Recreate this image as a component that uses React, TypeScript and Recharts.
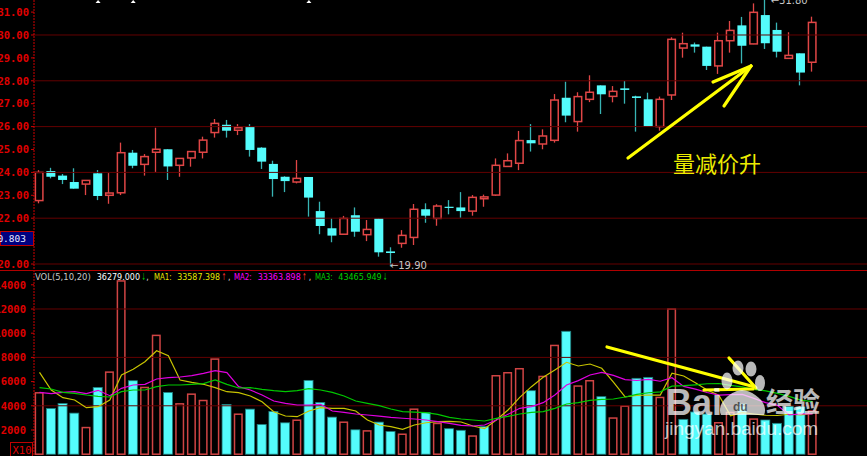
import React from 'react';
import { ComposedChart, Bar, Line, XAxis, YAxis, ReferenceLine, ReferenceDot } from 'recharts';

// ---------- data ----------
const opens = [22.77, 24.06, 23.86, 23.58, 23.49, 23.96, 23.0, 23.11, 24.86, 24.35, 24.88, 25.01, 24.31, 24.63, 24.88, 25.74, 26.08, 25.84, 25.98, 25.08, 24.37, 23.81, 23.58, 23.8, 22.31, 21.56, 21.3, 22.13, 21.28, 21.99, 20.55, 20.9, 21.16, 22.39, 21.99, 22.5, 22.47, 22.31, 22.85, 23.01, 24.26, 24.4, 25.41, 25.24, 25.4, 27.26, 26.22, 27.19, 27.8, 27.32, 27.67, 27.32, 27.19, 26.0, 27.38, 29.43, 29.59, 29.49, 28.65, 29.75, 30.42, 29.61, 30.87, 30.22, 28.98, 29.2, 28.81];
const closes = [24.0, 23.81, 23.67, 23.29, 23.65, 22.97, 23.1, 24.86, 24.29, 24.69, 25.01, 24.26, 24.61, 24.91, 25.41, 26.14, 25.82, 25.95, 24.98, 24.47, 23.71, 23.62, 23.74, 22.9, 21.66, 21.24, 21.99, 21.41, 21.51, 20.51, 20.48, 21.25, 22.39, 22.11, 22.53, 22.45, 22.31, 22.91, 22.93, 24.31, 24.51, 25.39, 25.27, 25.59, 27.16, 26.48, 27.31, 27.5, 27.41, 27.54, 27.6, 27.25, 26.0, 27.19, 29.81, 29.62, 29.49, 28.65, 29.75, 30.2, 29.53, 30.99, 29.64, 29.27, 29.11, 28.36, 30.55];
const highs = [24.1, 24.2, 23.93, 24.18, 23.65, 24.1, 23.97, 25.3, 24.98, 24.8, 25.95, 25.01, 24.63, 24.93, 25.56, 26.33, 26.29, 26.11, 26.11, 25.1, 24.51, 23.83, 24.54, 23.8, 22.72, 21.99, 22.1, 22.47, 21.92, 21.99, 20.73, 21.48, 22.62, 22.65, 22.61, 22.79, 23.14, 23.01, 23.03, 24.61, 24.83, 25.81, 26.11, 25.88, 27.42, 27.96, 27.5, 28.24, 27.8, 27.77, 27.99, 27.35, 27.48, 27.31, 29.9, 30.1, 29.67, 29.49, 30.1, 30.61, 30.79, 31.38, 31.8, 30.54, 30.12, 29.2, 30.8];
const lows = [22.65, 23.74, 23.49, 23.29, 23.01, 22.79, 22.63, 23.01, 24.18, 23.86, 24.02, 23.67, 23.81, 24.25, 24.61, 25.52, 25.52, 25.63, 24.69, 24.15, 22.94, 23.14, 23.52, 22.07, 21.3, 20.95, 21.27, 21.19, 21.0, 20.32, 19.9, 20.71, 20.83, 21.8, 21.67, 22.17, 22.02, 22.11, 22.5, 22.97, 24.25, 24.1, 24.91, 25.01, 25.3, 26.19, 25.78, 27.07, 26.55, 27.06, 27.0, 25.78, 26.0, 25.82, 27.16, 29.01, 29.23, 28.47, 28.3, 29.23, 28.76, 29.6, 29.39, 29.02, 28.98, 27.8, 28.4];

const volumes = [5134, 3781, 4195, 3395, 2263, 5520, 6845, 14380, 6072, 5575, 9881, 5106, 4223, 5023, 4499, 7921, 4112, 3367, 3726, 2456, 3533, 2594, 2870, 6100, 4278, 3064, 2705, 2015, 1987, 2650, 1877, 1711, 3781, 3431, 2603, 2107, 1975, 1562, 2273, 6545, 6793, 7124, 5248, 6487, 9049, 10156, 5693, 6132, 4753, 3049, 4030, 6270, 6350, 4750, 12055, 2880, 3490, 3320, 2660, 3510, 4150, 2964, 2826, 2550, 3983, 3926, 3628];
const volUp = [1, 0, 0, 0, 1, 0, 1, 1, 0, 1, 1, 0, 1, 1, 1, 1, 0, 1, 0, 0, 0, 0, 1, 0, 0, 0, 1, 0, 1, 0, 0, 1, 1, 0, 1, 0, 0, 1, 0, 1, 1, 1, 0, 1, 1, 0, 1, 1, 0, 1, 1, 0, 0, 1, 1, 0, 0, 0, 1, 1, 0, 1, 0, 0, 0, 0, 1];
const ma1 = [6765, 5305, 4669, 4480, 3843, 3925, 4480, 6545, 7016, 7644, 8553, 8140, 6132, 5942, 5777, 5496, 5165, 5085, 4811, 4340, 3512, 3154, 3099, 3567, 3843, 3788, 3788, 3567, 2826, 2413, 2275, 2055, 2413, 2600, 2690, 2715, 2660, 2330, 2110, 2825, 3650, 4700, 5580, 6350, 6958, 7595, 7289, 7454, 7099, 5960, 4730, 4850, 4890, 4890, 6690, 6460, 5900, 5300, 4880, 3170, 3430, 3320, 3220, 3200, 3300, 3250, 3359];
const ma2 = [5113, 5002, 5113, 5168, 5002, 5278, 4836, 5444, 5719, 5774, 6215, 6325, 6380, 6490, 6683, 6903, 6738, 5580, 5305, 4892, 4396, 4206, 4066, 4066, 4121, 3567, 3457, 3322, 3240, 3154, 3047, 2969, 2909, 2826, 2687, 2551, 2385, 2330, 2413, 2826, 3295, 3790, 3928, 4259, 4893, 5719, 6077, 6545, 6765, 6517, 6170, 6090, 6190, 6030, 6320, 5600, 5380, 5100, 4890, 4930, 4940, 4610, 4260, 4040, 3240, 3340, 3336];
const ma3 = [5496, 5388, 5113, 5030, 4892, 4782, 4727, 5168, 5305, 5305, 5580, 5719, 5719, 5774, 5829, 6132, 5774, 5471, 5496, 5361, 5250, 5168, 5250, 5416, 5305, 5113, 4811, 4396, 4206, 4010, 3733, 3512, 3485, 3430, 3295, 3047, 2909, 2826, 2743, 2964, 3130, 3322, 3460, 3515, 3791, 4149, 4259, 4452, 4535, 4562, 4725, 4950, 5080, 5150, 5620, 5660, 5730, 5820, 5840, 5690, 5560, 5350, 5230, 5030, 4780, 4470, 4347];

const priceTicks = [20, 21, 22, 23, 24, 25, 26, 27, 28, 29, 30, 31];
const priceGrid = [20, 22, 24, 26, 28, 30];
const volTicks = [2000, 4000, 6000, 8000, 10000, 12000, 14000];
const volGrid = [4000, 8000, 12000];
const markerIdx = [5, 8, 23];
const lowMark = { i: 30, v: 19.9, label: '←19.90' };
const highMark = { i: 62, v: 31.8, label: '←31.80' };
const headerVals = ['36279.000', '33587.398', '33363.898', '43465.949'];
const cursorPrice = '20.803';

// ---------- layout / style ----------
const W = 867;
const PRICE_H = 270;
const VOL_H = 186;
const X_DOMAIN: [number, number] = [-0.47, 70.65];
const PRICE_DOMAIN: [number, number] = [19.738, 31.528];
const VOL_DOMAIN: [number, number] = [-149, 15222];
const AXIS_W = 34;

const RED = '#e04646';
const CYAN = '#54fcfc';
const CYAN_WICK = '#38b4b4';
const GRID = '#640000';
const AXIS_RED = '#d00000';
const LABEL_RED = '#e00000';

const candles = opens.map((o, i) => ({
  i,
  open: o,
  close: closes[i],
  high: highs[i],
  low: lows[i],
  range: [lows[i], highs[i]],
}));

const vols = volumes.map((v, i) => ({ i, vol: v, up: volUp[i] === 1, ma1: ma1[i], ma2: ma2[i], ma3: ma3[i] }));

function Candle(props: any) {
  const { x, y, width, height, payload } = props;
  if (x == null || y == null || !payload) return null;
  const top = Math.min(y, y + height);
  const h = Math.abs(height);
  const { open, close, high, low } = payload;
  const k = h / (high - low);
  const py = (v: number) => top + (high - v) * k;
  const bTop = py(Math.max(open, close));
  const bBot = py(Math.min(open, close));
  const bodyH = Math.max(bBot - bTop, 1.2);
  const cx = Math.round(x + width / 2) - 0.5;
  if (close > open) {
    return (
      <g>
        <line x1={cx} x2={cx} y1={top} y2={bTop} stroke={RED} strokeWidth={1.3} />
        <line x1={cx} x2={cx} y1={bTop + bodyH} y2={top + h} stroke={RED} strokeWidth={1.3} />
        <rect x={x + 0.75} y={bTop} width={width - 1.5} height={bodyH} fill="#000" stroke={RED} strokeWidth={1.5} />
      </g>
    );
  }
  return (
    <g>
      <line x1={cx} x2={cx} y1={top} y2={top + h} stroke={CYAN_WICK} strokeWidth={1.3} />
      <rect x={x} y={bTop} width={width} height={bodyH} fill={CYAN} />
    </g>
  );
}

function VolBar(props: any) {
  const { x, y, width, height, payload } = props;
  if (x == null || y == null || !payload) return null;
  const top = Math.min(y, y + height);
  const h = Math.abs(height);
  if (payload.up) {
    return <rect x={x + 0.75} y={top + 0.75} width={width - 1.5} height={Math.max(h - 0.75, 0)} fill="#000" stroke="#d04444" strokeWidth={1.5} />;
  }
  return <rect x={x} y={top} width={width} height={h} fill={CYAN} stroke="#1f7f7f" strokeWidth={0.8} />;
}

const tickStyle = { fill: LABEL_RED, fontSize: 10.5, fontFamily: 'DejaVu Sans Mono', fontWeight: 'bold' as const };

export default function App() {
  const headerSegs = [
    { t: 'VOL(5,10,20)', x: 35, w: 55.7, c: '#c8c8c8' },
    { t: headerVals[0], x: 96.7, w: 43.3, c: '#ffffff' },
    { t: '↓', x: 141.7, w: 4, c: '#00d000' },
    { t: ',', x: 146.5, w: 2, c: '#ffffff' },
    { t: 'MA1:', x: 154, w: 17.7, c: '#e8e800' },
    { t: headerVals[1], x: 177.3, w: 42.7, c: '#e8e800' },
    { t: '↑', x: 221.7, w: 4.6, c: '#ff3030' },
    { t: ',', x: 228.3, w: 2, c: '#ffffff' },
    { t: 'MA2:', x: 234, w: 17.7, c: '#ff00ff' },
    { t: headerVals[2], x: 257.7, w: 43, c: '#ff00ff' },
    { t: '↑', x: 302.3, w: 4.4, c: '#ff3030' },
    { t: ',', x: 309, w: 2, c: '#ffffff' },
    { t: 'MA3:', x: 315, w: 17.7, c: '#00d000' },
    { t: headerVals[3], x: 338.3, w: 43.4, c: '#00d000' },
    { t: '↓', x: 383.3, w: 4, c: '#00d000' },
  ];
  return (
    <div style={{ position: 'absolute', left: 0, top: 0, width: W, height: 456, background: '#000', overflow: 'hidden' }}>
      <div style={{ position: 'absolute', left: 0, top: 0 }}>
        <ComposedChart width={W} height={PRICE_H} data={candles} margin={{ top: 0, right: 0, bottom: 0, left: 0 }}>
          <XAxis type="number" dataKey="i" domain={X_DOMAIN} hide allowDataOverflow />
          <YAxis
            type="number"
            domain={PRICE_DOMAIN}
            allowDataOverflow
            ticks={priceTicks}
            interval={0}
            width={AXIS_W}
            tickSize={3}
            tickMargin={2}
            tick={tickStyle}
            tickFormatter={(v: number) => v.toFixed(2)}
            axisLine={{ stroke: AXIS_RED, strokeDasharray: '2 1' }}
            tickLine={{ stroke: AXIS_RED }}
          />
          {priceGrid.map((g) => (
            <ReferenceLine key={g} y={g} stroke={GRID} strokeWidth={1} />
          ))}
          <Bar dataKey="range" barSize={9} shape={<Candle />} isAnimationActive={false} />
          {markerIdx.map((m) => (
            <ReferenceDot
              key={m}
              x={m}
              y={PRICE_DOMAIN[1]}
              r={0}
              ifOverflow="visible"
              shape={(p: any) => (
                <path d={`M${p.cx - 2.5},${p.cy + 3} L${p.cx},${p.cy} L${p.cx + 2.5},${p.cy + 3} Z`} fill="#ffffff" />
              )}
            />
          ))}
          <ReferenceDot
            x={lowMark.i}
            y={lowMark.v}
            r={0}
            ifOverflow="visible"
            shape={(p: any) => (
              <text x={p.cx - 1} y={p.cy + 3} fill="#c8c8c8" fontSize={10} fontFamily="DejaVu Sans">
                {lowMark.label}
              </text>
            )}
          />
          <ReferenceDot
            x={highMark.i}
            y={highMark.v}
            r={0}
            ifOverflow="visible"
            shape={(p: any) => (
              <text x={p.cx + 5} y={p.cy + 10} fill="#c8c8c8" fontSize={10} fontFamily="DejaVu Sans">
                {highMark.label}
              </text>
            )}
          />
        </ComposedChart>
      </div>
      <div style={{ position: 'absolute', left: 0, top: PRICE_H }}>
        <ComposedChart width={W} height={VOL_H} data={vols} margin={{ top: 0, right: 0, bottom: 0, left: 0 }}>
          <XAxis type="number" dataKey="i" domain={X_DOMAIN} hide allowDataOverflow />
          <YAxis
            type="number"
            domain={VOL_DOMAIN}
            allowDataOverflow
            ticks={volTicks}
            interval={0}
            width={AXIS_W}
            tickSize={3}
            tickMargin={5}
            tick={tickStyle}
            axisLine={{ stroke: AXIS_RED, strokeDasharray: '2 1' }}
            tickLine={{ stroke: AXIS_RED }}
          />
          {volGrid.map((g) => (
            <ReferenceLine key={g} y={g} stroke={GRID} strokeWidth={1} />
          ))}
          <Bar dataKey="vol" barSize={9} shape={<VolBar />} isAnimationActive={false} />
          <Line type="linear" dataKey="ma1" stroke="#c8c400" strokeWidth={1.2} dot={false} isAnimationActive={false} />
          <Line type="linear" dataKey="ma2" stroke="#e000e0" strokeWidth={1.2} dot={false} isAnimationActive={false} />
          <Line type="linear" dataKey="ma3" stroke="#00c800" strokeWidth={1.2} dot={false} isAnimationActive={false} />
        </ComposedChart>
      </div>
      <svg width={W} height={456} style={{ position: 'absolute', left: 0, top: 0, pointerEvents: 'none' }}>
        <line x1={0} x2={W} y1={270.5} y2={270.5} stroke="#b00000" strokeWidth={1} />
        {/* cursor price box */}
        <rect x={0.5} y={231.5} width={33} height={14} fill="#000080" stroke="#c00000" />
        <text x={26} y={242} textAnchor="end" fill="#e8e8ff" fontSize={9.5} fontFamily="DejaVu Sans Mono">
          {cursorPrice}
        </text>
        {/* X10 box */}
        <rect x={10.5} y={442.5} width={22} height={14} fill="#000" stroke="#c00000" />
        <text x={12.5} y={453.5} fill={LABEL_RED} fontSize={10.5} fontFamily="DejaVu Sans Mono">
          X10
        </text>
        {/* header */}
        <text y={279.5} fontSize={9.5} fontFamily="DejaVu Sans">
          {headerSegs.map((s, k) => (
            <tspan key={k} x={s.x} fill={s.c} textLength={s.w} lengthAdjust="spacingAndGlyphs">
              {s.t}
            </tspan>
          ))}
        </text>
        {/* annotations */}
        <g stroke="#ffff00" strokeWidth={3.2} strokeLinecap="round" fill="none">
          <line x1={628} y1={158} x2={751} y2={66} />
          <line x1={751} y1={66} x2={713} y2={82} />
          <line x1={751} y1={66} x2={724} y2={106} />
          <line x1={607} y1={347} x2={755} y2={387} />
          <line x1={729} y1={358} x2={756} y2={388} />
          <line x1={704} y1={390} x2={753} y2={389} />
        </g>
        <text x={673} y={172} fill="#ecec00" fontSize={22} fontFamily="Noto Sans CJK SC">
          量减价升
        </text>
        {/* watermark */}
        <g opacity={0.72} fill="#ffffff">
          <text x={666} y={415} fontSize={36} fontWeight="bold" fontFamily="Arial, Liberation Sans">
            Bai
          </text>
          <ellipse cx={727} cy={381} rx={5.5} ry={8.5} />
          <ellipse cx={738} cy={368} rx={5.5} ry={7.5} />
          <ellipse cx={751} cy={369} rx={5.5} ry={7.5} />
          <ellipse cx={760} cy={383} rx={5} ry={8} />
          <path d="M721,415 C716,404 730,391 742,390 C755,391 769,404 764,415 Z" />
          <text x={766} y={412} fontSize={27} fontFamily="Noto Sans CJK SC" fontWeight="bold">
            经验
          </text>
          <text x={665} y={435} fontSize={19} fontFamily="Arial, Liberation Sans">
            jingyan.baidu.com
          </text>
        </g>
        <text x={733} y={411} fontSize={12} fontWeight="bold" fill="#222" opacity={0.7} fontFamily="Arial, Liberation Sans">
          du
        </text>
      </svg>
    </div>
  );
}
